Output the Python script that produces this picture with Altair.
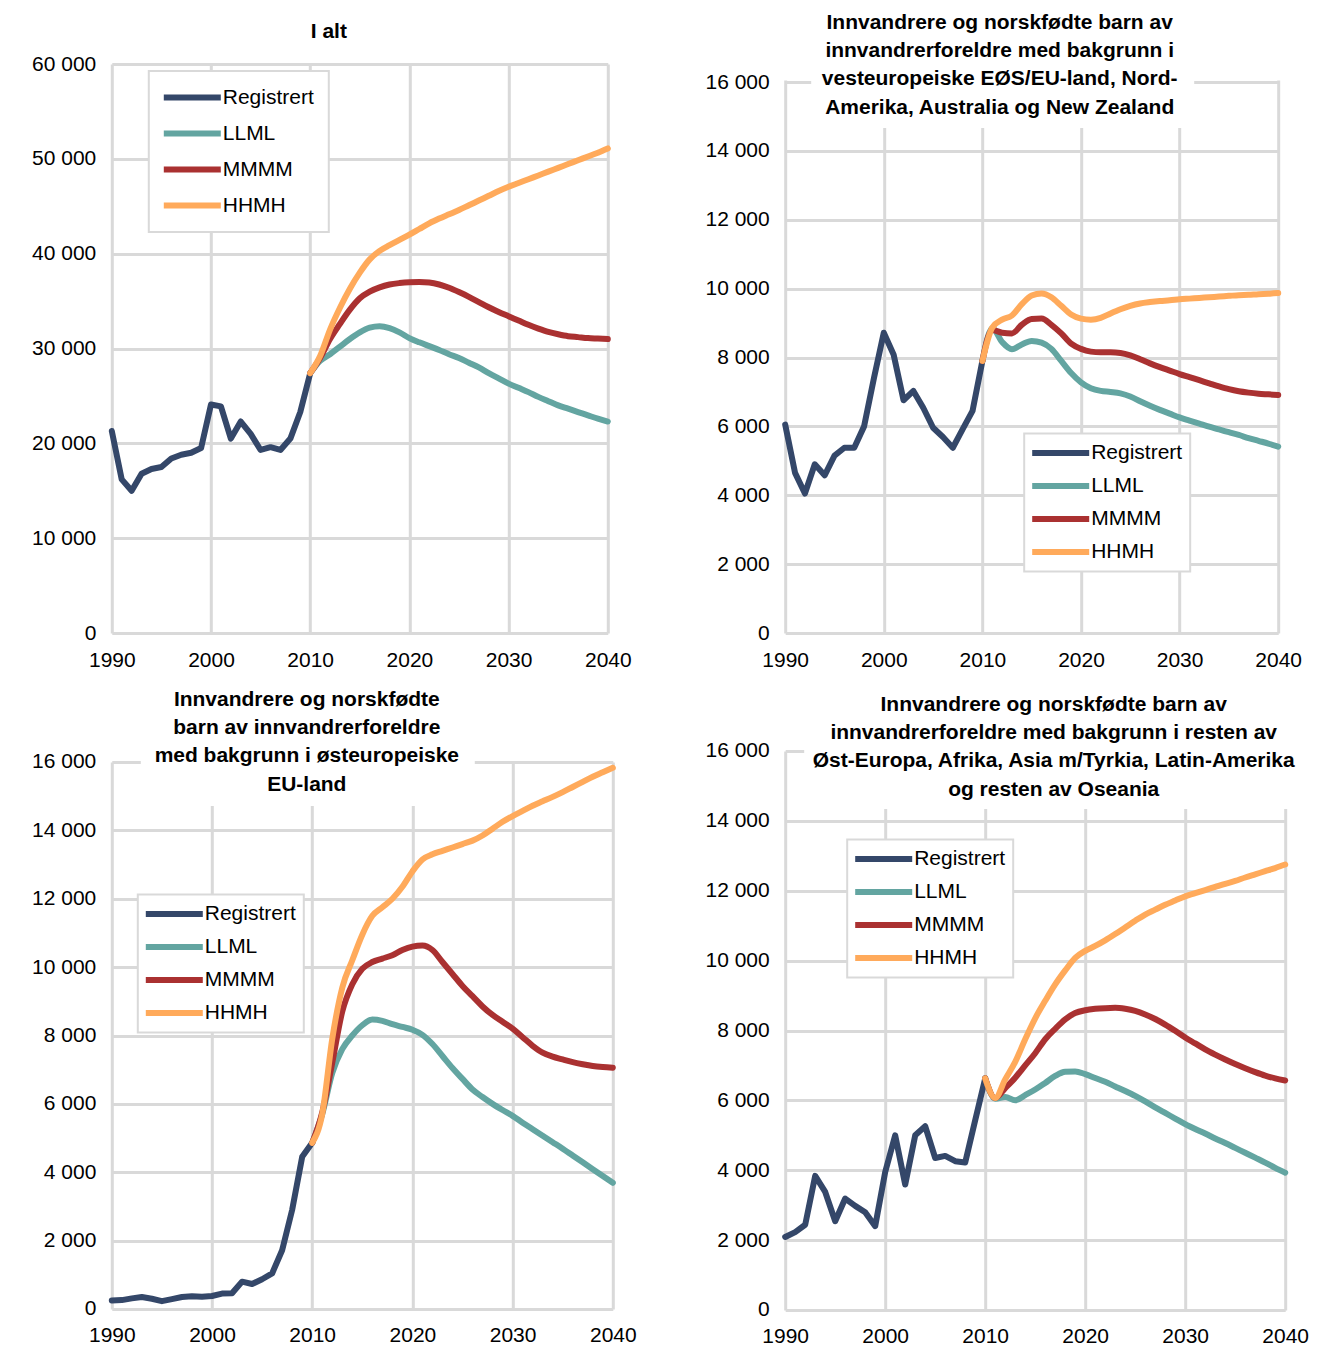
import altair as alt
import pandas as pd

SERIES = ["Registrert", "LLML", "MMMM", "HHMH"]
COLORS = ["#344769", "#63A5A1", "#AA3131", "#FFAA5B"]
GRID = "#D9D9D9"
FONT = "Liberation Sans"

REG_YEARS = list(range(1990, 2011))
PROJ_YEARS = list(range(2010, 2041))
X_TICKS = [1990, 2000, 2010, 2020, 2030, 2040]

# Panel 1: I alt
p1_title = "I alt"
p1_reg = [21300, 16200, 15000, 16800, 17300, 17500, 18400, 18800, 19000, 19500, 24100,
          23900, 20500, 22300, 21000, 19300, 19600, 19300, 20500, 23300, 27400]
p1_llml = [27400, 28700, 29400, 30200, 31000, 31700, 32200, 32350, 32150, 31700, 31100,
           30650, 30250, 29850, 29400, 29000, 28500, 28000, 27400, 26850, 26300,
           25850, 25400, 24900, 24450, 24000, 23650, 23300, 22950, 22600, 22300]
p1_mmmm = [27400, 29000, 31000, 32600, 34100, 35300, 36000, 36450, 36750, 36900, 36980,
           37000, 36950, 36750, 36400, 35950, 35450, 34900, 34350, 33850, 33400,
           32950, 32500, 32100, 31750, 31500, 31300, 31200, 31100, 31050, 31000]
p1_hhmh = [27400, 29200, 32000, 34300, 36300, 38000, 39400, 40300, 40900, 41450, 42000,
           42600, 43200, 43700, 44150, 44600, 45100, 45600, 46100, 46600, 47050,
           47450, 47850, 48250, 48650, 49050, 49450, 49850, 50250, 50650, 51100]

# Panel 2: vesteuropeiske EØS/EU-land m.m.
p2_title = ["Innvandrere og norskfødte barn av",
            "innvandrerforeldre med bakgrunn i",
            "vesteuropeiske EØS/EU-land, Nord-",
            "Amerika, Australia og New Zealand"]
p2_reg = [6050, 4650, 4050, 4900, 4580, 5150, 5380, 5380, 6000, 7400, 8720,
          8080, 6760, 7030, 6540, 5960, 5690, 5380, 5920, 6450, 7900]
p2_llml = [7900, 8850, 8450, 8240, 8380, 8480, 8430, 8250, 7900, 7550, 7280,
           7110, 7030, 7000, 6960, 6870, 6730, 6600, 6480, 6370, 6260,
           6170, 6080, 5990, 5910, 5830, 5750, 5660, 5580, 5500, 5410]
p2_mmmm = [7900, 8800, 8720, 8700, 8950, 9120, 9130, 8950, 8700, 8400, 8250,
           8170, 8150, 8150, 8130, 8060, 7950, 7830, 7720, 7620, 7520,
           7430, 7340, 7250, 7160, 7080, 7020, 6980, 6950, 6930, 6910]
p2_hhmh = [7900, 8870, 9100, 9220, 9550, 9800, 9860, 9750, 9500, 9250, 9130,
           9100, 9150, 9280, 9400, 9500, 9570, 9610, 9640, 9660, 9690,
           9710, 9730, 9750, 9770, 9790, 9810, 9820, 9840, 9850, 9870]

# Panel 3: østeuropeiske EU-land
p3_title = ["Innvandrere og norskfødte",
            "barn av innvandrerforeldre",
            "med bakgrunn i østeuropeiske",
            "EU-land"]
p3_reg = [250, 260, 310, 350, 300, 230, 290, 350, 370, 360, 380,
          450, 460, 800, 730, 870, 1040, 1720, 2900, 4450, 4860]
p3_llml = [4860, 5700, 6900, 7600, 8000, 8300, 8470, 8430, 8330, 8250, 8170,
           8020, 7750, 7400, 7050, 6730, 6420, 6200, 6000, 5820, 5650,
           5450, 5260, 5070, 4880, 4690, 4490, 4290, 4090, 3890, 3690]
p3_mmmm = [4860, 5750, 7200, 8700, 9500, 9950, 10150, 10250, 10350, 10500, 10600,
           10630, 10500, 10150, 9800, 9450, 9150, 8850, 8600, 8400, 8200,
           7950, 7700, 7500, 7380, 7300, 7220, 7160, 7110, 7080, 7060]
p3_hhmh = [4860, 5700, 7900, 9400, 10200, 10950, 11500, 11750, 12000, 12350, 12800,
           13150, 13300, 13400, 13500, 13600, 13700, 13850, 14050, 14250, 14420,
           14570, 14720, 14850, 14980, 15120, 15270, 15420, 15570, 15700, 15830]

# Panel 4: resten av verden
p4_title = ["Innvandrere og norskfødte barn av",
            "innvandrerforeldre med bakgrunn i resten av",
            "Øst-Europa, Afrika, Asia m/Tyrkia, Latin-Amerika",
            "og resten av Oseania"]
p4_reg = [2090, 2230, 2440, 3840, 3380, 2540, 3190, 2980, 2800, 2400, 3950,
          5000, 3590, 5000, 5260, 4350, 4410, 4260, 4220, 5430, 6630]
p4_llml = [6630, 6050, 6100, 6000, 6150, 6310, 6500, 6700, 6820, 6830, 6750,
           6640, 6530, 6400, 6270, 6130, 5970, 5800, 5640, 5480, 5320,
           5180, 5050, 4910, 4780, 4640, 4500, 4360, 4220, 4070, 3930]
p4_mmmm = [6630, 6070, 6350, 6650, 7000, 7350, 7750, 8050, 8320, 8500, 8580,
           8620, 8640, 8650, 8620, 8560, 8460, 8330, 8170, 7990, 7800,
           7630, 7460, 7310, 7170, 7040, 6920, 6810, 6710, 6630, 6570]
p4_hhmh = [6630, 6070, 6600, 7100, 7750, 8350, 8850, 9320, 9720, 10080, 10280,
           10420, 10580, 10760, 10950, 11140, 11320, 11460, 11600, 11720, 11840,
           11930, 12020, 12110, 12200, 12280, 12380, 12470, 12560, 12650, 12750]


def panel(title, title_offset, title_dx, reg, llml, mmmm, hhmh,
          ytop, ymax, ystep, w, h, leg_x, leg_y, leg_pad, leg_rowpad, masks):
    x = alt.X("year:Q", scale=alt.Scale(domain=[1990, 2040], nice=False, zero=False),
              axis=alt.Axis(values=X_TICKS, format="d", title=None))
    y = alt.Y("value:Q", scale=alt.Scale(domain=[0, ytop], nice=False),
              axis=alt.Axis(values=list(range(0, ymax + 1, ystep)), title=None,
                            labelExpr="replace(format(datum.value, ','), ',', ' ')"))
    color = alt.Color(
        "series:N",
        scale=alt.Scale(domain=SERIES, range=COLORS),
        legend=alt.Legend(
            title=None, orient="none", legendX=leg_x, legendY=leg_y,
            fillColor="white", strokeColor=GRID, padding=leg_pad,
            symbolType="M-3,0H3", symbolSize=361, symbolStrokeWidth=6,
            symbolOffset=17, labelOffset=18, rowPadding=leg_rowpad,
            labelFont=FONT, labelFontSize=21, labelColor="#000000",
        ),
    )
    layers = []
    # white backdrops behind the chart titles (as in the original layout)
    for (mx1, mx2, my1, my2) in masks:
        layers.append(
            alt.Chart(pd.DataFrame({"k": [0]})).mark_rect(color="white").encode(
                x=alt.value(mx1), x2=alt.value(mx2), y=alt.value(my1), y2=alt.value(my2))
        )
    line_style = dict(strokeWidth=6, strokeJoin="round", strokeCap="round")
    layers.append(
        alt.Chart(pd.DataFrame({"year": REG_YEARS, "value": reg, "series": "Registrert"}))
        .mark_line(interpolate="linear", **line_style)
        .encode(x=x, y=y, color=color)
    )
    for name, vals in (("LLML", llml), ("MMMM", mmmm), ("HHMH", hhmh)):
        layers.append(
            alt.Chart(pd.DataFrame({"year": PROJ_YEARS, "value": vals, "series": name}))
            .mark_line(interpolate="monotone", **line_style)
            .encode(x=x, y=y, color=color)
        )
    return alt.layer(*layers).properties(
        width=w, height=h,
        title=alt.TitleParams(text=title, font=FONT, fontSize=21, fontWeight="bold",
                              color="#000000", lineHeight=28.3,
                              offset=title_offset, dx=title_dx, anchor="middle"),
    )


c1 = panel(p1_title, 11.3, -31, p1_reg, p1_llml, p1_mmmm, p1_hhmh,
           60000, 60000, 10000, 496, 569, 37, 7, 14, 11, [])
c2 = panel(p2_title, -56.6, -32, p2_reg, p2_llml, p2_mmmm, p2_hhmh,
           16523, 16000, 2000, 493, 569, 239, 369.5, 7, 8,
           [(-3, 496, -3, 16.5), (26, 409, 16, 64)])
c3 = panel(p3_title, -43.7, -55.5, p3_reg, p3_llml, p3_mmmm, p3_hhmh,
           16000, 16000, 2000, 501, 547, 26, 132.5, 7, 8, [(29, 363, -5, 44)])
c4 = panel(p4_title, -59.7, 18.5, p4_reg, p4_llml, p4_mmmm, p4_hhmh,
           16000, 16000, 2000, 500, 559, 62, 88.5, 7, 8, [(19, 514, -5, 58)])

col1 = alt.vconcat(c1, c3, spacing=17).resolve_scale(color="independent").resolve_legend(color="independent")
col2 = alt.vconcat(c2, c4, spacing=22).resolve_scale(color="independent").resolve_legend(color="independent")

chart = (
    alt.hconcat(col1, col2, spacing=67.4)
    .resolve_scale(color="independent")
    .resolve_legend(color="independent")
    .properties(padding={"left": 22.8, "top": 3, "right": 5, "bottom": 5}, background="white")
    .configure_view(stroke="transparent")
    .configure_axis(grid=True, gridColor=GRID, gridWidth=3, domain=False, ticks=False,
                    tickSize=0, labelFont=FONT, labelFontSize=21, labelColor="#000000",
                    labelPadding=16, labelFlush=False)
    .configure_legend(strokeWidth=2)
)

chart.save("out.html", embed_options={"renderer": "svg", "actions": False})
